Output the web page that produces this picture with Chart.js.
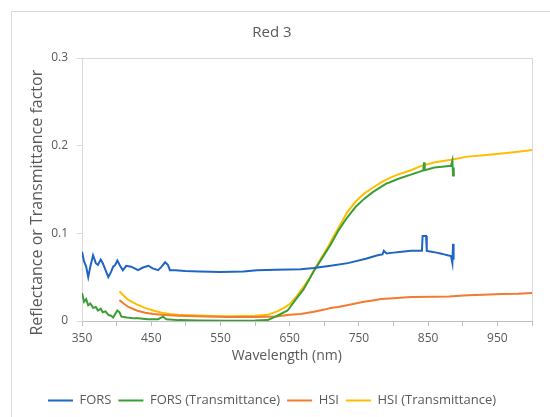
<!DOCTYPE html>
<html>
<head>
<meta charset="utf-8">
<script src="https://cdn.jsdelivr.net/npm/chart.js@4"></script>
<style>
  html, body { margin: 0; padding: 0; background: #fff; }
  #wrap { width: 550px; height: 417px; position: relative; }
</style>
</head>
<body>
<div id="wrap"><canvas id="chart"></canvas></div>
<script>
// Red 3 — reflectance / transmittance spectra

const FONT = "'Open Sans', sans-serif";
const TEXT = '#595959';

// FORS reflectance
const forsNm = [350, 353, 356, 359, 362, 366, 370, 373, 377, 380, 384, 388, 392, 395, 398, 401, 405, 409, 414, 421,
  426, 431, 438, 446, 452, 460, 465, 470, 474, 477, 485, 499, 520, 550, 583, 603, 630, 666, 685, 709,
  734, 760, 777, 784, 786, 790, 800, 812, 825, 835, 841, 842, 847, 848, 855, 862, 868, 873, 878, 883,
  885, 886, 886.5, 887];
const forsVal = [0.079, 0.068, 0.062, 0.050, 0.062, 0.075, 0.066, 0.064, 0.070, 0.066, 0.058, 0.050, 0.056, 0.062, 0.064, 0.069, 0.063, 0.058, 0.063, 0.062,
  0.060, 0.058, 0.061, 0.063, 0.060, 0.058, 0.062, 0.067, 0.064, 0.058, 0.058, 0.057, 0.0565, 0.056, 0.0565, 0.058, 0.0585, 0.059, 0.0605, 0.063,
  0.066, 0.071, 0.075, 0.076, 0.080, 0.077, 0.078, 0.079, 0.080, 0.080, 0.080, 0.097, 0.097, 0.080, 0.079, 0.078, 0.077, 0.076, 0.075, 0.074,
  0.066, 0.088, 0.070, 0.071];

// FORS transmittance
const forsTNm = [350, 353, 356, 359, 362, 366, 370, 373, 377, 380, 384, 388, 392, 395, 398, 401, 404, 407, 415, 425,
  431, 445, 460, 467, 472, 490, 520, 560, 600, 618, 632, 647, 661, 670, 685, 697, 709, 721, 733, 745,
  757, 770, 782, 790, 794, 806, 825, 840, 843, 844, 845, 850, 859, 870, 883, 885, 886, 887];
const forsTVal = [0.032, 0.022, 0.025, 0.018, 0.020, 0.015, 0.016, 0.012, 0.014, 0.010, 0.011, 0.007, 0.006, 0.004, 0.008, 0.012, 0.010, 0.005, 0.004, 0.003,
  0.003, 0.002, 0.002, 0.005, 0.002, 0.001, 0.0005, 0.0003, 0.0005, 0.001, 0.006, 0.012, 0.027, 0.036, 0.057, 0.072, 0.087, 0.104, 0.118, 0.130,
  0.139, 0.147, 0.153, 0.157, 0.158, 0.162, 0.167, 0.171, 0.172, 0.181, 0.172, 0.173, 0.175, 0.176, 0.177, 0.183, 0.166, 0.175];

// HSI reflectance
const hsiNm = [404, 410, 417, 429, 441, 453, 465, 489, 528, 560, 600, 630, 650, 666, 685, 700, 709, 720, 733, 745,
  757, 770, 782, 800, 825, 859, 880, 907, 930, 956, 980, 1000];
const hsiVal = [0.024, 0.020, 0.016, 0.012, 0.0095, 0.008, 0.007, 0.006, 0.005, 0.0045, 0.0045, 0.005, 0.007, 0.008, 0.0105, 0.013, 0.0148, 0.016, 0.018, 0.020,
  0.022, 0.0235, 0.025, 0.026, 0.0275, 0.0278, 0.028, 0.0295, 0.030, 0.0307, 0.031, 0.032];

// HSI transmittance
const hsiTNm = [404, 410, 417, 429, 441, 453, 465, 477, 489, 528, 560, 600, 618, 632, 642, 651, 660, 670, 678, 685,
  695, 705, 713, 721, 733, 745, 757, 770, 782, 794, 806, 825, 840, 860, 883, 907, 930, 956, 980, 1000];
const hsiTVal = [0.034, 0.029, 0.024, 0.019, 0.015, 0.012, 0.0095, 0.008, 0.007, 0.006, 0.0055, 0.006, 0.007, 0.011, 0.015, 0.020, 0.028, 0.039, 0.048, 0.058,
  0.071, 0.084, 0.096, 0.107, 0.124, 0.136, 0.145, 0.152, 0.158, 0.163, 0.167, 0.172, 0.177, 0.181, 0.184, 0.1875, 0.189, 0.191, 0.193, 0.195];

const xTicks = [350, 450, 550, 650, 750, 850, 950];
const yTicks = [0, 0.1, 0.2, 0.3];
const xTitle = 'Wavelength (nm)';
const yTitle = 'Reflectance or Transmittance factor';

const pts = (xs, ys) => xs.map((x, i) => ({ x, y: ys[i] }));

const line = (label, xs, ys, color) => ({
  label,
  data: pts(xs, ys),
  borderColor: color,
  backgroundColor: color,
  borderWidth: 2,
  pointRadius: 0,
  tension: 0,
});

// light frame round the figure and the plot area, plus the axis titles
const framePlugin = {
  id: 'frame',
  beforeDraw(chart) {
    const { ctx, chartArea: a } = chart;
    ctx.save();
    ctx.strokeStyle = '#d9d9d9';
    ctx.lineWidth = 1;
    ctx.strokeRect(a.left + 0.5, a.top + 0.5, a.right - a.left, a.bottom - a.top);
    ctx.beginPath();
    ctx.moveTo(11.5, chart.height);
    ctx.lineTo(11.5, 11.5);
    ctx.lineTo(chart.width, 11.5);
    ctx.stroke();

    ctx.fillStyle = TEXT;
    ctx.textAlign = 'center';
    ctx.textBaseline = 'middle';
    ctx.font = `14px ${FONT}`;
    ctx.fillText(xTitle, a.left + (a.right - a.left) * 0.455, a.bottom + 35);
    ctx.translate(37, a.top + (a.bottom - a.top) * 0.55);
    ctx.rotate(-Math.PI / 2);
    ctx.font = `16px ${FONT}`;
    ctx.fillText(yTitle, 0, 0);
    ctx.restore();
  },
};

new Chart(document.getElementById('chart'), {
  type: 'line',
  data: {
    datasets: [
      line('FORS', forsNm, forsVal, '#1f65c4'),
      line('FORS (Transmittance)', forsTNm, forsTVal, '#3a9e35'),
      line('HSI', hsiNm, hsiVal, '#f47a2e'),
      line('HSI (Transmittance)', hsiTNm, hsiTVal, '#ffbd00'),
    ],
  },
  options: {
    responsive: true,
    maintainAspectRatio: false,
    animation: false,
    layout: { padding: { left: 12, right: 18, top: 0, bottom: 0 } },
    plugins: {
      title: { display: true, text: 'Red 3', color: TEXT, font: { family: FONT, size: 15, weight: 'normal' }, padding: { top: 24, bottom: 16 } },
      legend: {
        position: 'bottom',
        labels: {
          color: TEXT,
          font: { family: FONT, size: 13 },
          boxWidth: 25,
          boxHeight: 2,
          padding: 7,
          generateLabels: chart => Chart.defaults.plugins.legend.labels.generateLabels(chart).map(it => ({ ...it, lineWidth: 0, fillStyle: it.strokeStyle })),
        },
      },
      tooltip: { enabled: false },
    },
    scales: {
      x: {
        type: 'linear',
        min: 350,
        max: 1000,
        ticks: {
          stepSize: 50,
          autoSkip: false,
          maxRotation: 0,
          padding: 5,
          color: TEXT,
          font: { family: FONT, size: 12 },
          callback: v => xTicks.includes(v) ? String(v) : '',
        },
        grid: { drawOnChartArea: false, tickLength: 5, color: '#bfbfbf' },
        border: { color: '#bfbfbf' },
        afterFit: s => { s.height = 66; },
      },
      y: {
        min: 0,
        max: 0.3,
        ticks: {
          stepSize: 0.1,
          padding: 9,
          color: TEXT,
          font: { family: FONT, size: 12 },
          callback: v => yTicks.some(t => Math.abs(t - v) < 1e-9) ? (v === 0 ? '0' : v.toFixed(1)) : '',
        },
        grid: { drawOnChartArea: false, tickLength: 5, color: '#d9d9d9' },
        border: { color: '#d9d9d9' },
        afterFit: s => { s.width = 70; },
      },
    },
  },
  plugins: [framePlugin],
});
</script>
</body>
</html>
